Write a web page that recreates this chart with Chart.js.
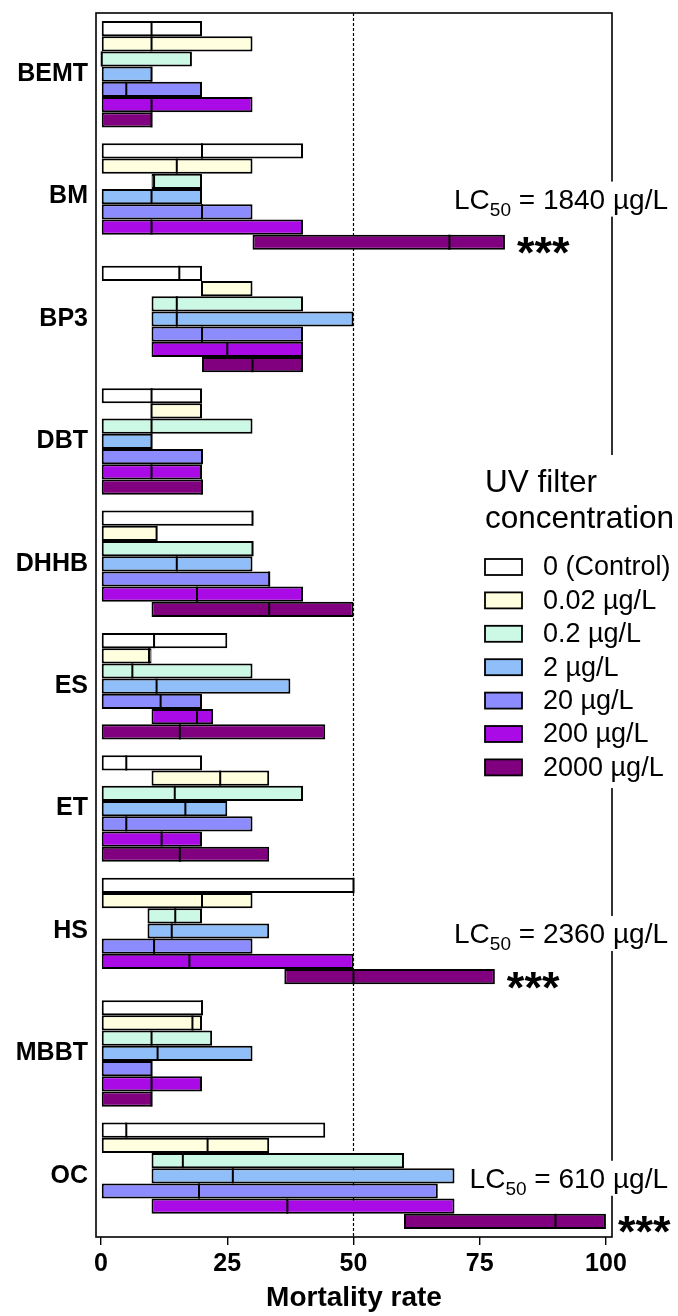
<!DOCTYPE html>
<html>
<head>
<meta charset="utf-8">
<script src="https://cdn.jsdelivr.net/npm/chart.js@4.4.1/dist/chart.umd.min.js"></script>
<style>
  html, body { margin: 0; padding: 0; background: #fff; }
  #wrap { width: 678px; height: 1316px; }
</style>
</head>
<body>
<div id="wrap"><canvas id="mortalityChart" width="678" height="1316"></canvas></div>
<script>
// Данные: для каждой концентрации - [минимум, медиана, максимум] по каждому УФ-фильтру
const compounds = ['BEMT', 'BM', 'BP3', 'DBT', 'DHHB', 'ES', 'ET', 'HS', 'MBBT', 'OC'];
const concLabels = ['0 (Control)', '0.02 µg/L', '0.2 µg/L', '2 µg/L', '20 µg/L', '200 µg/L', '2000 µg/L'];
const concColors = ['#ffffff', '#ffffe0', '#ccf8e6', '#90bef8', '#8c8cff', '#aa0ae6', '#800080'];

const control = [[0, 10, 20], [0, 20, 40], [0, 15.5, 20], [0, 10, 20], [0, 30, 30], [0, 10.5, 25], [0, 5, 20], [0, 50, 50], [0, 20, 20], [0, 5, 44.4]];
const c0_02 = [[0, 10, 30], [0, 15, 30], [20, 20, 30], [10, 10, 20], [0, 11, 11], [0, 9.5, 10], [10, 23.6, 33.3], [0, 20, 30], [0, 18.1, 20], [0, 21.1, 33.3]];
const c0_2 = [[0, 0, 18], [10, 10.5, 20], [10, 15, 40], [0, 10, 30], [0, 30, 30], [0, 6.2, 30], [0, 14.6, 40], [9.2, 14.7, 20], [0, 10, 22], [10, 16.2, 60]];
const c2 = [[0, 10, 10], [0, 10, 20], [10, 15, 50], [0, 10, 10], [0, 15, 30], [0, 11, 37.5], [0, 16.7, 25], [9.2, 14, 33.3], [0, 11.2, 30], [10, 26.1, 70]];
const c20 = [[0, 5, 20], [0, 20, 30], [10, 20, 40], [0, 20, 20], [0, 33.3, 33.3], [0, 11.8, 20], [0, 5, 30], [0, 10.5, 30], [0, 10, 10], [0, 19.4, 66.7]];
const c200 = [[0, 10, 30], [0, 10, 40], [10, 25, 40], [0, 10, 20], [0, 19, 40], [10, 19, 22.2], [0, 12, 20], [0, 17.5, 50], [0, 10, 20], [10, 36.9, 70]];
const c2000 = [[0, 10, 10], [30, 69, 80], [20, 30, 40], [0, 20, 20], [10, 33.3, 50], [0, 15.6, 44.4], [0, 15.6, 33.3], [36.3, 50, 78], [0, 10, 10], [60, 90, 100]];

const xTicks = [0, 25, 50, 75, 100];
const refLine = 50;

// Подписи LC50 и значимость (***) для концентрации 2000 µg/L
const lcCompounds = ['BM', 'HS', 'OC'];
const lcValues = ['1840', '2360', '610'];

const FONT = "'Liberation Sans', Arial, sans-serif";

// Каждая концентрация -> два сегмента: [мин, медиана] и [медиана, макс]
const allConc = [control, c0_02, c0_2, c2, c20, c200, c2000];
const datasets = [];
allConc.forEach((rows, i) => {
    const common = {
        backgroundColor: concColors[i],
        borderColor: '#000',
        borderSkipped: false,
        inflateAmount: 0,
        stack: 's' + i,
        barPercentage: 1.0,
        categoryPercentage: 0.87
    };
    datasets.push(Object.assign({
        label: concLabels[i],
        data: rows.map(r => [r[0], r[1]]),
        borderWidth: { top: 2, bottom: 2, left: 2, right: 0 }
    }, common));
    datasets.push(Object.assign({
        label: concLabels[i] + ' hi',
        data: rows.map(r => [r[1], r[2]]),
        borderWidth: { top: 2, bottom: 2, left: 0, right: 2 }
    }, common));
});

const annotationsPlugin = {
    id: 'annotations',
    beforeDatasetsDraw(chart) {
        // пунктир на 50%
        const { ctx, chartArea: a, scales: { x } } = chart;
        const px = x.getPixelForValue(refLine);
        ctx.save();
        ctx.strokeStyle = '#000';
        ctx.lineWidth = 1.2;
        ctx.setLineDash([3, 2]);
        ctx.beginPath();
        ctx.moveTo(px, a.top);
        ctx.lineTo(px, a.bottom);
        ctx.stroke();
        ctx.restore();
    },
    afterDatasetsDraw(chart) {
        const { ctx, chartArea: a, scales: { y } } = chart;
        ctx.save();

        // линии медиан (левый край верхнего сегмента)
        ctx.strokeStyle = '#000';
        ctx.lineWidth = 2;
        for (let d = 1; d < datasets.length; d += 2) {
            chart.getDatasetMeta(d).data.forEach(el => {
                const h = el.height;
                ctx.beginPath();
                ctx.moveTo(el.base, el.y - h / 2);
                ctx.lineTo(el.base, el.y + h / 2);
                ctx.stroke();
            });
        }

        // рамка
        ctx.lineWidth = 1.6;
        ctx.strokeRect(a.left, a.top, a.right - a.left, a.bottom - a.top);

        // LC50 + звёздочки
        const lastMeta = chart.getDatasetMeta(datasets.length - 1);
        lcCompounds.forEach((name, k) => {
            const idx = compounds.indexOf(name);
            const cy = y.getPixelForValue(idx);
            const big = '28px ' + FONT, small = '19px ' + FONT;
            ctx.font = big;
            const w1 = ctx.measureText('LC').width;
            const rest = ' = ' + lcValues[k] + ' µg/L';
            const w3 = ctx.measureText(rest).width;
            ctx.font = small;
            const w2 = ctx.measureText('50').width;
            const right = 668;
            const x0 = right - (w1 + w2 + w3);
            ctx.fillStyle = '#fff';
            ctx.fillRect(x0 - 3, cy - 15, right - x0 + 8, 35);
            ctx.fillStyle = '#000';
            ctx.textBaseline = 'alphabetic';
            ctx.textAlign = 'left';
            ctx.font = big;
            ctx.fillText('LC', x0, cy + 12);
            ctx.font = small;
            ctx.fillText('50', x0 + w1, cy + 19);
            ctx.font = big;
            ctx.fillText(rest, x0 + w1 + w2, cy + 12);

            const el = lastMeta.data[idx];
            ctx.font = 'bold 45px ' + FONT;
            ctx.fillText('***', el.x + 12, el.y + 26);
        });

        // легенда
        const lx = 485, ly = 567, step = 33.4;
        ctx.fillStyle = '#fff';
        ctx.fillRect(478, 455, 200, 333);
        ctx.fillStyle = '#000';
        ctx.font = '31.5px ' + FONT;
        ctx.fillText('UV filter', lx, 492);
        ctx.fillText('concentration', lx, 528);
        ctx.font = '27px ' + FONT;
        ctx.textBaseline = 'middle';
        concLabels.forEach((lab, i) => {
            const yy = ly + step * i;
            ctx.fillStyle = concColors[i];
            ctx.fillRect(lx, yy - 8, 37, 16);
            ctx.strokeStyle = '#000';
            ctx.lineWidth = 1.8;
            ctx.strokeRect(lx, yy - 8, 37, 16);
            ctx.fillStyle = '#000';
            ctx.fillText(lab, 543, yy + 1);
        });
        ctx.restore();
    }
};

const ctx = document.getElementById('mortalityChart').getContext('2d');
new Chart(ctx, {
    type: 'bar',
    data: { labels: compounds, datasets: datasets },
    options: {
        indexAxis: 'y',
        responsive: false,
        animation: false,
        devicePixelRatio: 1,
        layout: { padding: { top: 13, right: 66, left: 0, bottom: 0 } },
        plugins: { legend: { display: false }, tooltip: { enabled: false } },
        scales: {
            y: {
                stacked: true,
                grid: { display: false, drawTicks: false },
                border: { display: false },
                ticks: { color: '#000', font: { family: FONT, size: 25, weight: 'bold' }, padding: 8 },
                afterFit(scale) {
                    scale.width = 96;
                    scale.paddingTop = 0;
                    scale.paddingBottom = 0;
                }
            },
            x: {
                stacked: false,
                min: -1,
                max: 101.2,
                afterBuildTicks(scale) { scale.ticks = xTicks.map(v => ({ value: v })); },
                grid: { drawOnChartArea: false, drawTicks: true, tickLength: 8, color: '#000', lineWidth: 1.4 },
                border: { display: false },
                ticks: { color: '#000', font: { family: FONT, size: 25, weight: 'bold' }, padding: 4, maxRotation: 0 },
                title: { display: true, text: 'Mortality rate', color: '#000', font: { family: FONT, size: 28, weight: 'bold' }, padding: { top: 0, bottom: 1 } },
                afterFit(scale) { scale.height = 79; }
            }
        }
    },
    plugins: [annotationsPlugin]
});
</script>
</body>
</html>
